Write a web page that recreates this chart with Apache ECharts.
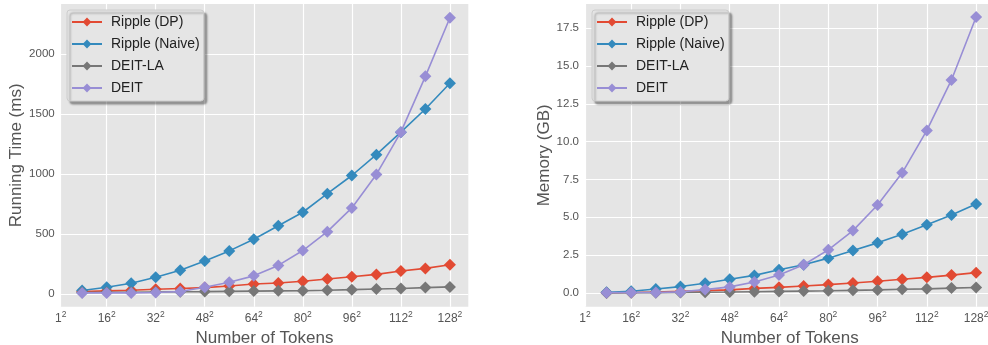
<!DOCTYPE html>
<html>
<head>
<meta charset="utf-8">
<script src="https://cdn.jsdelivr.net/npm/echarts@6/dist/echarts.min.js"></script>
<style>
html,body{margin:0;padding:0;background:#fff;}
#c{width:988px;height:345px;}
</style>
</head>
<body>
<div id="c"></div>
<script>
// ---- data ----
var tokensSqrt = [8,16,24,32,40,48,56,64,72,80,88,96,104,112,120,128];
var seriesNames = ['Ripple (DP)','Ripple (Naive)','DEIT-LA','DEIT'];

var timeRippleDP    = [20,25,30,38,45,52,66,82,90,105,124,143,162,190,212,242];
var timeRippleNaive = [28,55,88,138,196,273,358,455,567,680,835,986,1160,1347,1540,1755];
var timeDeitLA      = [11,13,14,16,18,19,21,23,25,26,30,35,40,45,52,58];
var timeDeit        = [8,8,8,11,20,55,96,150,237,361,518,716,995,1347,1812,2300];

var memRippleDP    = [0.01,0.03,0.06,0.10,0.15,0.20,0.30,0.37,0.46,0.55,0.66,0.77,0.90,1.03,1.18,1.34];
var memRippleNaive = [0.04,0.11,0.26,0.42,0.64,0.90,1.16,1.53,1.86,2.30,2.80,3.31,3.88,4.50,5.15,5.88];
var memDeitLA      = [0.00,0.01,0.02,0.03,0.05,0.06,0.08,0.10,0.12,0.14,0.17,0.20,0.24,0.27,0.32,0.36];
var memDeit        = [0.02,0.03,0.03,0.07,0.22,0.40,0.72,1.18,1.86,2.85,4.12,5.81,7.94,10.74,14.08,18.24];

var xTickValues = [1,16,32,48,64,80,96,112,128];
var yTicksTime = [0,500,1000,1500,2000];
var yTicksMem = [0,2.5,5,7.5,10,12.5,15,17.5];

// ---- styling ----
var colors = ['#E24A33','#348ABD','#777777','#988ED5'];
var FONT = 'Liberation Sans';

function pairs(vals){ return tokensSqrt.map(function(x,i){ return [x, vals[i]]; }); }

function xAxis(gridIndex){
  return {
    type:'value', gridIndex:gridIndex, min:1, max:134,
    name:'Number of Tokens', nameLocation:'middle', nameGap:19,
    nameTextStyle:{fontFamily:FONT,fontSize:17,color:'#555'},
    axisLine:{show:false},
    axisTick:{show:false, customValues:xTickValues},
    splitLine:{show:true,lineStyle:{color:'#ffffff',width:1.2}},
    axisLabel:{
      customValues:xTickValues, margin:3,
      formatter:function(v){ return '{b|'+v+'}{s|2}'; },
      rich:{
        b:{fontFamily:FONT,fontSize:12,color:'#555',lineHeight:15,verticalAlign:'bottom'},
        s:{fontFamily:FONT,fontSize:8.5,color:'#555',lineHeight:15,verticalAlign:'top'}
      }
    }
  };
}

function yAxis(gridIndex,name,ticks,min,max,gap,fmt){
  return {
    type:'value', gridIndex:gridIndex, min:min, max:max,
    name:name, nameLocation:'middle', nameGap:gap, nameRotate:90,
    nameTextStyle:{fontFamily:FONT,fontSize:17,color:'#555'},
    axisLine:{show:false},
    axisTick:{show:false, customValues:ticks},
    splitLine:{show:true,lineStyle:{color:'#ffffff',width:1.2}},
    axisLabel:{customValues:ticks, margin:6, fontFamily:FONT, fontSize:11.5, color:'#555', formatter:fmt}
  };
}

function makeSeries(idx, arrs){
  return arrs.map(function(a,i){
    return {
      name:seriesNames[i], type:'line', xAxisIndex:idx, yAxisIndex:idx,
      data:pairs(a), symbol:'diamond', symbolSize:12, showSymbol:true,
      lineStyle:{width:1.6,color:colors[i]}, itemStyle:{color:colors[i]},
      emphasis:{disabled:true}, animation:false, z:2+i
    };
  });
}

function legend(left){
  return {
    orient:'vertical', left:left, top:10, data:seriesNames,
    backgroundColor:'#E5E5E5', borderColor:'#CCCCCC', borderWidth:1, borderRadius:3,
    shadowColor:'rgba(0,0,0,0.35)', shadowBlur:2, shadowOffsetX:3, shadowOffsetY:3,
    padding:[5,4,6,4], itemGap:8, itemWidth:30, itemHeight:11,
    textStyle:{fontFamily:FONT,fontSize:14,color:'#222',padding:[0,0,0,4]},
    selectedMode:false
  };
}

var chart = echarts.init(document.getElementById('c'), null, {renderer:'canvas'});
chart.setOption({
  backgroundColor:'#ffffff',
  animation:false,
  color:colors,
  grid:[
    {left:60.7, top:4, width:407.6, height:302.7, show:true, backgroundColor:'#E5E5E5', borderWidth:0, containLabel:false, outerBoundsMode:'none'},
    {left:585, top:4, width:409.6, height:302.7, show:true, backgroundColor:'#E5E5E5', borderWidth:0, containLabel:false, outerBoundsMode:'none'}
  ],
  xAxis:[xAxis(0), xAxis(1)],
  yAxis:[
    yAxis(0,'Running Time (ms)',yTicksTime,-107,2415,31,function(v){return String(v);}),
    yAxis(1,'Memory (GB)',yTicksMem,-0.91,19.1,31,function(v){return v.toFixed(1);})
  ],
  legend:[legend(67), legend(592)],
  series: makeSeries(0,[timeRippleDP,timeRippleNaive,timeDeitLA,timeDeit])
    .concat(makeSeries(1,[memRippleDP,memRippleNaive,memDeitLA,memDeit]))
});
</script>
</body>
</html>
